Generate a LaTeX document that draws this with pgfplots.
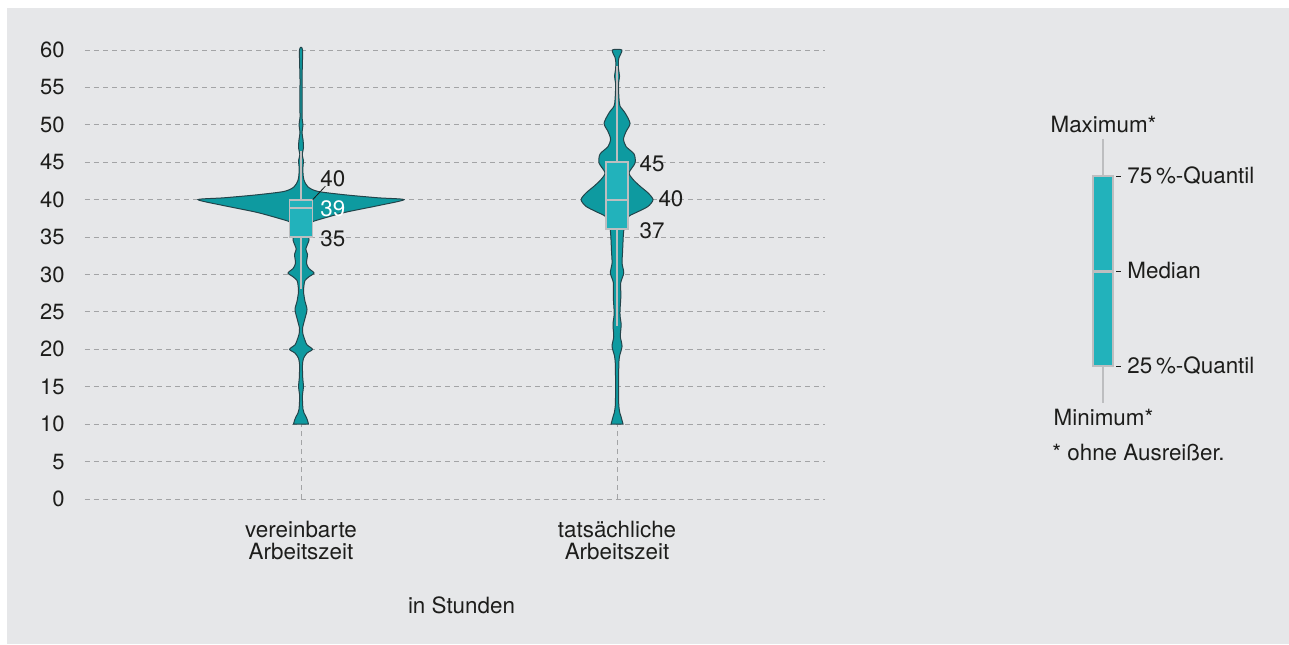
\documentclass[border=0pt]{standalone}
\usepackage{fontspec}
\setmainfont{TeX Gyre Heros}
\usepackage{pgfplots}
\usepackage{pgfplotstable}
\pgfplotsset{compat=1.18}

\definecolor{bg}{HTML}{E6E7E9}
\definecolor{violin}{HTML}{0E9AA0}
\definecolor{violinedge}{HTML}{23444A}
\definecolor{boxfill}{HTML}{22B2BB}
\definecolor{boxedge}{HTML}{BDBEC0}
\definecolor{gridgray}{HTML}{A3A4A6}
\definecolor{txt}{HTML}{1D1D1B}

% violin outlines: y, offset from the centre in px (316 px = 1 category step)
% right side upwards, then left side downwards
\pgfplotstableread{
y w
10 7.5
10.5 6.5
11 5
11.5 3
12 2
13 1.5
14 1.5
15 2.5
16 1.8
17 1.5
18 1.5
18.8 2.5
19.5 6
20 11.5
20.6 6
21.2 4
22 2
22.8 1.5
23.9 3.5
25.3 6
26.4 4
27.7 2.5
28.6 3
29.2 4
29.7 8
30.2 13
30.8 8
31.5 5.5
32.7 6.5
33.4 4.8
34.6 8
35.5 7.5
36.5 8
37 11
37.3 17
38.3 44
39.2 77
40 103
40.25 77
40.65 44
41.1 17
41.7 7
42.6 3
43.5 2
44.5 2
45.2 2.5
46 1.2
47 2.5
48 2
49 1
50 2
51 1
53 1.2
56 1
60 1.5
60 -1.5
56 -1
53 -1.2
51 -1
50 -2
49 -1
48 -2
47 -2.5
46 -1.2
45.2 -2.5
44.5 -2
43.5 -2
42.6 -3
41.7 -7
41.1 -17
40.65 -44
40.25 -77
40 -103
39.2 -77
38.3 -44
37.3 -17
37 -11
36.5 -8
35.5 -7.5
34.6 -8
33.4 -4.8
32.7 -6.5
31.5 -5.5
30.8 -8
30.2 -13
29.7 -8
29.2 -4
28.6 -3
27.7 -2.5
26.4 -4
25.3 -6
23.9 -3.5
22.8 -1.5
22 -2
21.2 -4
20.6 -6
20 -11.5
19.5 -6
18.8 -2.5
18 -1.5
17 -1.5
16 -1.8
15 -2.5
14 -1.5
13 -1.5
12 -2
11.5 -3
11 -5
10.5 -6.5
10 -7.5
}\vereinbart

\pgfplotstableread{
y w
10 6
10.5 5
11 4
11.5 2.8
12.4 1.8
14 1.5
16 1.5
17.5 1.7
18.2 1.8
19.1 2.5
20.4 5
21.7 3.3
23 4
23.5 4
24.5 3
25.3 3
27.1 3.8
28.9 3.7
30.2 6.7
31.5 5
33 5.5
34.5 6
35.6 6.5
36.9 8
37.8 12
38.4 21
39.1 31
40 36
40.9 31
41.8 23
42.7 16
43.6 12
44.9 18
46.1 17
47.1 9
48.1 6.5
49.1 9
50.2 13
51.6 8
52.5 3
53.4 2
54.7 1.5
55.6 1.5
56.5 2.5
57.4 1.5
58.3 1.2
59 2
60 4.8
60 -4.8
59 -2
58.3 -1.2
57.4 -1.5
56.5 -2.5
55.6 -1.5
54.7 -1.5
53.4 -2
52.5 -3
51.6 -8
50.2 -13
49.1 -9
48.1 -6.5
47.1 -9
46.1 -17
44.9 -18
43.6 -12
42.7 -16
41.8 -23
40.9 -31
40 -36
39.1 -31
38.4 -21
37.8 -12
36.9 -8
35.6 -6.5
34.5 -6
33 -5.5
31.5 -5
30.2 -6.7
28.9 -3.7
27.1 -3.8
25.3 -3
24.5 -3
23.5 -4
23 -4
21.7 -3.3
20.4 -5
19.1 -2.5
18.2 -1.8
17.5 -1.7
16 -1.5
14 -1.5
12.4 -1.8
11.5 -2.8
11 -4
10.5 -5
10 -6
}\tatsaechlich

\begin{document}
\begin{tikzpicture}[font=\fontsize{11.2}{13}\selectfont]
\useasboundingbox (0,0) rectangle (644.5pt,322pt);
\fill[white] (0,0) rectangle (644.5pt,322pt);
\fill[bg] (3.5pt,0) rectangle (644.5pt,318pt);

\begin{axis}[
  at={(42.5pt,72.5pt)}, anchor=south west,
  width=370pt, height=224.5pt, scale only axis,
  clip=false,
  xmin=0.3165, xmax=2.658, ymin=0, ymax=60,
  axis line style={draw=none},
  tick style={draw=none},
  major tick length=0pt,
  xtick={1,2},
  xticklabels={{vereinbarte\\Arbeitszeit},{tatsächliche\\Arbeitszeit}},
  ytick={0,5,...,60},
  xmajorgrids, ymajorgrids,
  grid style={gridgray, line width=0.5pt, dash pattern=on 2.5pt off 2pt},
  /pgf/number format/assume math mode=true,
  yticklabel style={inner sep=0pt, xshift=-10pt, text=txt,
    font=\fontsize{11}{13}\selectfont},
  xticklabel style={inner sep=0pt, yshift=-11pt, align=center, text=txt,
    font=\fontsize{11.2}{11}\selectfont},
]
% vereinbarte Arbeitszeit
\addplot[fill=violin, draw=violinedge, line width=0.5pt, smooth, tension=0.45]
  table[x expr={1+\thisrow{w}/316}, y=y] {\vereinbart} -- cycle;
\addplot[boxedge, line width=0.9pt] coordinates {(1,28.1) (1,35)};
\addplot[boxedge, line width=0.9pt] coordinates {(1,40) (1,46.5)};
\addplot[fill=boxfill, draw=boxedge, line width=0.9pt]
  coordinates {(0.9635,35) (1.0365,35) (1.0365,40) (0.9635,40)} -- cycle;
\addplot[boxedge, line width=1pt] coordinates {(0.9635,38.9) (1.0365,38.9)};

% tatsaechliche Arbeitszeit
\addplot[fill=violin, draw=violinedge, line width=0.5pt, smooth, tension=0.45]
  table[x expr={2+\thisrow{w}/316}, y=y] {\tatsaechlich} -- cycle;
\addplot[boxedge, line width=0.9pt] coordinates {(2,23.1) (2,36.1)};
\addplot[boxedge, line width=0.9pt] coordinates {(2,45) (2,57.9)};
\addplot[fill=boxfill, draw=boxedge, line width=0.9pt]
  coordinates {(1.965,36.1) (2.035,36.1) (2.035,45) (1.965,45)} -- cycle;
\addplot[boxedge, line width=1pt] coordinates {(1.965,40) (2.035,40)};

% value labels
\draw[txt, line width=0.4pt] (axis cs:1.037,40) -- (axis cs:1.077,41.8);
\node[anchor=west, inner sep=0pt, text=txt] at (axis cs:1.060,42.8) {40};
\node[anchor=west, inner sep=0pt, text=white] at (axis cs:1.060,38.8) {39};
\node[anchor=west, inner sep=0pt, text=txt] at (axis cs:1.060,34.8) {35};
\node[anchor=west, inner sep=0pt, text=txt] at (axis cs:2.070,44.8) {45};
\node[anchor=west, inner sep=0pt, text=txt] at (axis cs:2.130,40.1) {40};
\node[anchor=west, inner sep=0pt, text=txt] at (axis cs:2.070,35.9) {37};
\end{axis}

\node[anchor=base, inner sep=0pt, text=txt] at (230.75pt,15.5pt) {in Stunden};

% explanation of the box
\draw[boxedge, line width=1.3pt] (551.5pt,252.5pt) -- (551.5pt,120.5pt);
\draw[boxedge, fill=boxfill, line width=1pt] (546.5pt,139pt) rectangle (556.5pt,234pt);
\draw[boxedge, line width=1.5pt] (546.5pt,186.5pt) -- (556.5pt,186.5pt);
\foreach \yy in {234,186.5,139}
  \draw[txt, line width=0.5pt] (558pt,\yy pt) -- (560.5pt,\yy pt);
\node[anchor=base, inner sep=0pt, text=txt] at (551.75pt,255.5pt) {Maximum*};
\node[anchor=base, inner sep=0pt, text=txt] at (551.75pt,109.5pt) {Minimum*};
\node[anchor=base west, inner sep=0pt, text=txt] at (563.5pt,230.2pt) {75\,\%-Quantil};
\node[anchor=base west, inner sep=0pt, text=txt] at (563.5pt,182.7pt) {Median};
\node[anchor=base west, inner sep=0pt, text=txt] at (563.5pt,135.2pt) {25\,\%-Quantil};
\node[anchor=base west, inner sep=0pt, text=txt] at (526pt,92pt) {* ohne Ausreißer.};
\end{tikzpicture}
\end{document}
